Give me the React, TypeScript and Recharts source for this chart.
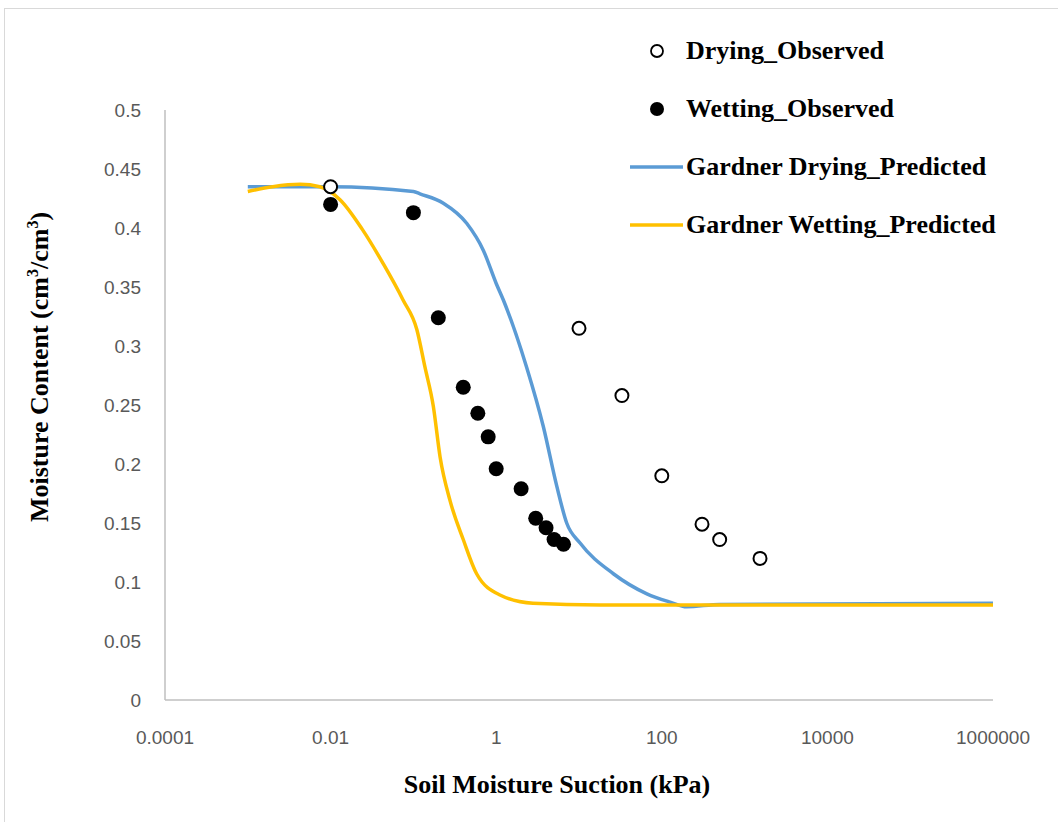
import { ComposedChart, Line, Scatter, XAxis, YAxis } from 'recharts';

// Soil water characteristic: suction in kPa, volumetric moisture content
const dryObsSuction = [0.01, 10, 33, 100, 306, 500, 1535];
const dryObsMoisture = [0.435, 0.315, 0.258, 0.19, 0.149, 0.136, 0.12];

const wetObsSuction = [0.01, 0.1, 0.2, 0.4, 0.6, 0.8, 1, 2, 3, 4, 5, 6.5];
const wetObsMoisture = [0.42, 0.413, 0.324, 0.265, 0.243, 0.223, 0.196, 0.179, 0.154, 0.146, 0.136, 0.132];

const dryFitSuction = [0.001, 0.01, 0.1, 0.12, 0.23, 0.44, 0.7, 1, 1.22, 2.33, 3.7, 5.4, 7.1, 10.3, 26, 66, 126, 200, 500, 1000000];
const dryFitMoisture = [0.435, 0.435, 0.431, 0.429, 0.421, 0.404, 0.381, 0.353, 0.339, 0.282, 0.232, 0.181, 0.15, 0.133, 0.107, 0.09, 0.083, 0.079, 0.081, 0.082];

const wetFitSuction = [0.001, 0.002, 0.0043, 0.0074, 0.013, 0.0246, 0.043, 0.075, 0.11, 0.138, 0.174, 0.21, 0.277, 0.4, 0.58, 1.11, 2.78, 18, 1000000];
const wetFitMoisture = [0.431, 0.435, 0.437, 0.435, 0.424, 0.398, 0.37, 0.339, 0.314, 0.282, 0.249, 0.206, 0.169, 0.136, 0.107, 0.089, 0.082, 0.0805, 0.0805];

const xTicks = [0.0001, 0.01, 1, 100, 10000, 1000000];
const yTicks = [0, 0.05, 0.1, 0.15, 0.2, 0.25, 0.3, 0.35, 0.4, 0.45, 0.5];

const BLUE = '#5B9BD5';
const GOLD = '#FFC000';
const serif = '"Liberation Serif", "Times New Roman", serif';
const sans = '"Liberation Sans", Arial, sans-serif';

const toPoints = (xs: number[], ys: number[]) => xs.map((x, i) => ({ suction: x, moisture: ys[i] }));

const dryObs = toPoints(dryObsSuction, dryObsMoisture);
const wetObs = toPoints(wetObsSuction, wetObsMoisture);
const dryFit = toPoints(dryFitSuction, dryFitMoisture);
const wetFit = toPoints(wetFitSuction, wetFitMoisture);

const OpenDot = (p: any) => <circle cx={p.cx} cy={p.cy} r={6.5} fill="#fff" stroke="#000" strokeWidth={2} />;
const FilledDot = (p: any) => <circle cx={p.cx} cy={p.cy} r={7.5} fill="#000" />;

const legendItems = [
  { name: 'Drying_Observed', kind: 'open' },
  { name: 'Wetting_Observed', kind: 'filled' },
  { name: 'Gardner Drying_Predicted', kind: 'line', color: BLUE },
  { name: 'Gardner Wetting_Predicted', kind: 'line', color: GOLD },
];

// legend sits in the top-right corner, over the empty part of the plot
const ChartLegend = () => (
  <div style={{ position: 'absolute', left: 620, top: 22 }}>
    {legendItems.map((item) => (
      <div key={item.name} style={{ display: 'flex', alignItems: 'center', height: 58 }}>
        <svg width={66} height={20}>
          {item.kind === 'open' && <circle cx={37} cy={10} r={6} fill="#fff" stroke="#000" strokeWidth={1.8} />}
          {item.kind === 'filled' && <circle cx={37} cy={10} r={7} fill="#000" />}
          {item.kind === 'line' && <line x1={10} y1={10} x2={63} y2={10} stroke={item.color} strokeWidth={3.5} />}
        </svg>
        <span style={{ fontFamily: serif, fontWeight: 'bold', fontSize: 26, color: '#000', whiteSpace: 'nowrap' }}>
          {item.name}
        </span>
      </div>
    ))}
  </div>
);

export default function App() {
  return (
    <div style={{ position: 'absolute', left: 0, top: 0, width: 1058, height: 822, overflow: 'hidden', background: '#fff' }}>
      <div style={{ position: 'absolute', left: 4, top: 8, width: 1100, height: 900, border: '1px solid #D9D9D9' }} />
      <div style={{ position: 'absolute', left: 0, top: 0 }}>
        <ComposedChart width={1058} height={822} margin={{ top: 110, right: 65, bottom: 92, left: 105 }}>
          <XAxis
            type="number"
            dataKey="suction"
            scale="log"
            domain={[0.0001, 1000000]}
            ticks={xTicks}
            allowDataOverflow
            tickLine={false}
            tickSize={0}
            tickMargin={31}
            stroke="#BFBFBF"
            strokeWidth={1.5}
            tick={{ fill: '#595959', fontSize: 19, fontFamily: sans }}
            height={30}
          />
          <YAxis
            type="number"
            dataKey="moisture"
            domain={[0, 0.5]}
            ticks={yTicks}
            tickLine={false}
            tickSize={0}
            tickMargin={24}
            stroke="#BFBFBF"
            strokeWidth={1.5}
            tick={{ fill: '#595959', fontSize: 19, fontFamily: sans }}
            width={60}
          />
          <Line data={dryFit} dataKey="moisture" type="monotone" stroke={BLUE} strokeWidth={3.5} dot={false} isAnimationActive={false} />
          <Line data={wetFit} dataKey="moisture" type="monotone" stroke={GOLD} strokeWidth={3.5} dot={false} isAnimationActive={false} />
          <Scatter data={dryObs} dataKey="moisture" shape={OpenDot} isAnimationActive={false} />
          <Scatter data={wetObs} dataKey="moisture" shape={FilledDot} isAnimationActive={false} />
        </ComposedChart>
      </div>
      <ChartLegend />
      <svg width={1058} height={822} style={{ position: 'absolute', left: 0, top: 0, pointerEvents: 'none' }}>
        <text x={557} y={793} textAnchor="middle" fontFamily={serif} fontWeight="bold" fontSize={26} fill="#000">
          Soil Moisture Suction (kPa)
        </text>
        <text x={0} y={0} transform="translate(48 367) rotate(-90)" textAnchor="middle" fontFamily={serif} fontWeight="bold" fontSize={26} fill="#000">
          Moisture Content (cm<tspan fontSize={16} dy={-10}>3</tspan><tspan dy={10}>/cm</tspan>
          <tspan fontSize={16} dy={-10}>3</tspan><tspan dy={10}>)</tspan>
        </text>
      </svg>
    </div>
  );
}
